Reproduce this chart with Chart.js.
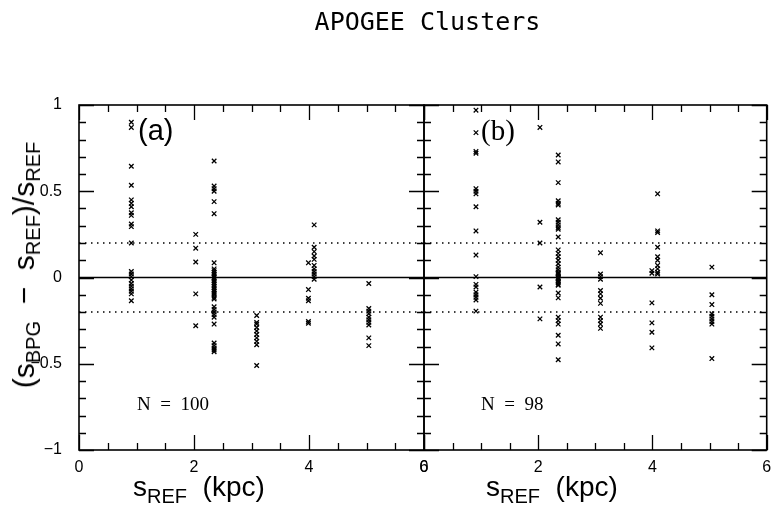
<!DOCTYPE html>
<html>
<head>
<meta charset="utf-8">
<script src="https://cdn.jsdelivr.net/npm/chart.js@4.4.1/dist/chart.umd.min.js"></script>
<style>
  html, body { margin: 0; padding: 0; background: #fff; }
  #wrap { position: relative; width: 772px; height: 518px; overflow: hidden; background: #fff; }
  #wrap canvas { position: absolute; top: 0; }
  .txt { position: absolute; color: #000; white-space: pre; line-height: 1; }
  .title { font-family: "DejaVu Sans Mono", monospace; font-size: 25px; left: 0; width: 855px; text-align: center; top: 9px; }
  .xlab { font-family: "Liberation Sans", Arial, sans-serif; font-size: 28px; top: 473px; }
  .xlab sub { font-size: 20px; vertical-align: -7px; }
  .ylab sub { font-size: 20px; vertical-align: -6px; }
  .ylab { font-family: "Liberation Sans", Arial, sans-serif; font-size: 30px; left: 26px; top: 265px; transform: translate(-50%, -50%) rotate(-90deg); }
  .tag { font-size: 29px; top: 116px; }
  .count { font-family: "Liberation Serif", "Times New Roman", serif; font-size: 19px; top: 394px; }
</style>
</head>
<body>
<div id="wrap">
  <canvas id="panelA" width="430" height="518" style="left:0px"></canvas>
  <canvas id="panelB" width="354" height="518" style="left:418px"></canvas>
  <div class="txt title">APOGEE Clusters</div>
  <div class="txt ylab">(s<sub>BPG</sub>  &minus;  s<sub>REF</sub>)/s<sub>REF</sub></div>
  <div class="txt xlab" style="left:133px">s<sub>REF</sub>  (kpc)</div>
  <div class="txt xlab" style="left:486px">s<sub>REF</sub>  (kpc)</div>
  <div class="txt tag" style="left:138px; font-family:'Liberation Sans', Arial, sans-serif">(a)</div>
  <div class="txt tag" style="left:481px; font-family:'Liberation Serif', 'Times New Roman', serif">(b)</div>
  <div class="txt count" style="left:137px">N  =  100</div>
  <div class="txt count" style="left:481px">N  =  98</div>
</div>
<script>
// Reference distances (kpc) of the clusters, shared by both panels
const clusterDistances = [0.91, 2.03, 2.35, 3.09, 3.99, 4.09, 5.04];

// Fractional distance residuals, one list per cluster (panel a)
const residualsA = [
  [0.90, 0.87, 0.645, 0.535, 0.45, 0.43, 0.41, 0.375, 0.36, 0.31, 0.295, 0.20, 0.035, 0.02, 0.005, -0.015, -0.035, -0.05, -0.065, -0.08, -0.095, -0.135],
  [0.25, 0.17, 0.09, -0.095, -0.28],
  [0.675, 0.53, 0.515, 0.50, 0.44, 0.37, 0.085, 0.05, 0.04, 0.03, 0.02, 0.01, 0.0, -0.01, -0.02, -0.03, -0.04, -0.05, -0.06, -0.07, -0.08, -0.09, -0.10, -0.115, -0.125, -0.17, -0.185, -0.20, -0.215, -0.23, -0.27, -0.38, -0.395, -0.41, -0.42, -0.43],
  [-0.22, -0.26, -0.27, -0.29, -0.31, -0.33, -0.35, -0.37, -0.39, -0.51],
  [0.085, -0.07, -0.12, -0.135, -0.255, -0.265],
  [0.305, 0.175, 0.15, 0.125, 0.105, 0.07, 0.05, 0.035, 0.02, 0.005, -0.01],
  [-0.035, -0.18, -0.195, -0.21, -0.23, -0.245, -0.26, -0.275, -0.35, -0.395]
];

// Fractional distance residuals, one list per cluster (panel b)
const residualsB = [
  [0.97, 0.84, 0.73, 0.72, 0.515, 0.50, 0.485, 0.41, 0.27, 0.13, 0.005, -0.04, -0.055, -0.085, -0.10, -0.115, -0.13, -0.195],
  [0.87, 0.32, 0.20, -0.055, -0.24],
  [0.71, 0.67, 0.55, 0.445, 0.43, 0.42, 0.335, 0.32, 0.305, 0.29, 0.28, 0.235, 0.16, 0.14, 0.12, 0.10, 0.08, 0.06, 0.045, 0.03, 0.025, 0.02, 0.01, 0.0, -0.005, -0.01, -0.02, -0.03, -0.04, -0.045, -0.09, -0.118, -0.23, -0.25, -0.27, -0.335, -0.385, -0.477],
  [0.143, 0.02, 0.005, -0.01, -0.075, -0.095, -0.12, -0.15, -0.23, -0.25, -0.27, -0.295],
  [0.04, 0.025, -0.147, -0.263, -0.317, -0.408],
  [0.485, 0.27, 0.26, 0.175, 0.12, 0.10, 0.07, 0.05, 0.03, 0.02],
  [0.06, -0.10, -0.157, -0.21, -0.225, -0.24, -0.255, -0.27, -0.47]
];

// Axis ranges and tick values
const xRange = [0, 6];
const yRange = [-1, 1];
const xMajorTicks = [0, 2, 4, 6];
const xMinorStep = 0.5;
const yMajorTicks = [-1, -0.5, 0, 0.5, 1];
const yMinorStep = 0.1;

// Horizontal guide levels: zero line and the +/-20% band
const zeroLevel = 0;
const bandLevels = [0.2, -0.2];

function toPoints(residuals) {
  const pts = [];
  residuals.forEach((list, i) => list.forEach(v => pts.push({ x: clusterDistances[i], y: v })));
  return pts;
}

function levelLine(y) {
  return [{ x: xRange[0], y: y }, { x: xRange[1], y: y }];
}

// Frame with inward ticks on all four sides
const framePlugin = {
  id: 'frameTicks',
  afterDatasetsDraw(chart) {
    const { ctx, chartArea: a, scales } = chart;
    const xs = scales.x, ys = scales.y;
    ctx.save();
    ctx.strokeStyle = '#000';
    ctx.lineWidth = 1.6;
    ctx.strokeRect(a.left, a.top, a.right - a.left, a.bottom - a.top);
    ctx.lineWidth = 1.3;
    ctx.beginPath();
    for (let v = xRange[0]; v <= xRange[1] + 1e-9; v += xMinorStep) {
      const major = xMajorTicks.some(t => Math.abs(t - v) < 1e-6);
      const len = major ? 15 : 7;
      const px = Math.round(xs.getPixelForValue(v)) + 0.5;
      ctx.moveTo(px, a.bottom); ctx.lineTo(px, a.bottom - len);
      ctx.moveTo(px, a.top); ctx.lineTo(px, a.top + len);
    }
    for (let k = 0; k <= Math.round((yRange[1] - yRange[0]) / yMinorStep); k++) {
      const v = yRange[0] + k * yMinorStep;
      const major = yMajorTicks.some(t => Math.abs(t - v) < 1e-6);
      const len = major ? 15 : 7;
      const py = Math.round(ys.getPixelForValue(v)) + 0.5;
      ctx.moveTo(a.left, py); ctx.lineTo(a.left + len, py);
      ctx.moveTo(a.right, py); ctx.lineTo(a.right - len, py);
    }
    ctx.stroke();
    ctx.restore();
  }
};

function makePanel(canvasId, residuals, opts) {
  return new Chart(document.getElementById(canvasId), {
    type: 'scatter',
    data: {
      datasets: [
        {
          data: toPoints(residuals),
          pointStyle: 'crossRot',
          pointRadius: 3.2,
          pointBorderWidth: 1.3,
          borderColor: '#000',
          backgroundColor: '#000',
          order: 0
        },
        {
          type: 'line',
          data: levelLine(zeroLevel),
          borderColor: '#000',
          borderWidth: 1.3,
          pointRadius: 0,
          order: 1
        },
        ...bandLevels.map(y => ({
          type: 'line',
          data: levelLine(y),
          borderColor: '#000',
          borderWidth: 1.4,
          borderDash: [1.5, 4.5],
          pointRadius: 0,
          order: 1
        }))
      ]
    },
    options: {
      responsive: false,
      animation: false,
      events: [],
      layout: { padding: opts.padding },
      plugins: { legend: { display: false }, tooltip: { enabled: false }, title: { display: false } },
      scales: {
        x: {
          type: 'linear',
          min: xRange[0], max: xRange[1],
          afterFit(s) { s.height = 68; s.paddingLeft = 0; s.paddingRight = 0; },
          afterBuildTicks(s) { s.ticks = xMajorTicks.map(v => ({ value: v })); },
          grid: { display: false, drawTicks: false },
          border: { display: false },
          ticks: {
            padding: 8,
            color: '#000',
            font: { family: 'Liberation Sans, Arial, sans-serif', size: 16 },
            maxRotation: 0,
            callback: v => String(v)
          }
        },
        y: {
          type: 'linear',
          min: yRange[0], max: yRange[1],
          afterFit(s) { s.width = opts.yWidth; s.paddingTop = 0; s.paddingBottom = 0; },
          afterBuildTicks(s) { s.ticks = yMajorTicks.map(v => ({ value: v })); },
          grid: { display: false, drawTicks: false },
          border: { display: false },
          ticks: {
            display: opts.yLabels,
            padding: 17,
            color: '#000',
            font: { family: 'Liberation Sans, Arial, sans-serif', size: 16 },
            callback: v => (v < 0 ? '\u2212' + String(-v) : String(v))
          }
        }
      }
    },
    plugins: [framePlugin]
  });
}

makePanel('panelA', residualsA, { padding: { top: 105, left: 0, right: 6, bottom: 0 }, yWidth: 79, yLabels: true });
makePanel('panelB', residualsB, { padding: { top: 105, left: 0, right: 5, bottom: 0 }, yWidth: 6, yLabels: false });
</script>
</body>
</html>
